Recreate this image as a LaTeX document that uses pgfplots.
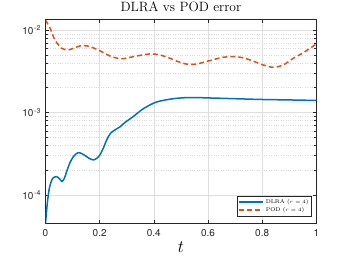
\documentclass[border=0pt]{standalone}
\usepackage{fontspec}
\usepackage{pgfplots}
\pgfplotsset{compat=1.18}
\newfontfamily\helv{TeX Gyre Heros}
\definecolor{mblue}{rgb}{0,0.447,0.741}
\definecolor{morange}{rgb}{0.85,0.325,0.098}
\definecolor{axgray}{rgb}{0.15,0.15,0.15}
\begin{document}
\begin{tikzpicture}
\useasboundingbox (-45.5pt,-39.7pt) rectangle (304.5pt,223.3pt);
\begin{axis}[
  scale only axis, width=270.8pt, height=203.8pt,
  at={(0pt,0pt)}, anchor=south west,
  ymode=log, xmin=0, xmax=1, ymin=4.54e-5, ymax=1.34e-2,
  xtick={0,0.2,0.4,0.6,0.8,1},
  xticklabels={0,0.2,0.4,0.6,0.8,1},
  ytick={1e-4,1e-3,1e-2},
  yticklabels={10\kern0.8pt\textsuperscript{-4},10\kern0.8pt\textsuperscript{-3},10\kern0.8pt\textsuperscript{-2}},
  ticklabel style={font=\helv\fontsize{10}{12}\selectfont, text=axgray},
  xticklabel style={yshift=-3pt},
  yticklabel style={xshift=-1pt},
  axis line style={axgray, line width=0.5pt},
  tick style={axgray, line width=0.5pt},
  major tick length=3pt, minor tick length=2pt,
  tick align=inside,
  xmajorgrids=true, ymajorgrids=true, yminorgrids=true,
  major grid style={black!13, line width=0.4pt},
  minor grid style={black!15, line width=0.4pt, dotted},
  title={DLRA vs POD error},
  title style={font=\fontsize{13.5}{15}\selectfont, yshift=-1.5pt},
  xlabel={$t$},
  xlabel style={font=\fontsize{17}{20}\selectfont, yshift=2pt},
  legend style={at={(0.983,0.036)}, anchor=south east,
    font=\fontsize{5.5}{6}\selectfont, draw=axgray, line width=0.4pt,
    inner sep=1pt, row sep=-1.5pt},
  legend cell align=left,
  legend image code/.code={\draw[#1] (0pt,0pt) -- (24pt,0pt);},
]
\addplot[mblue, line width=1.5pt, smooth, tension=0.5] coordinates {
(0,4.5e-5) (0.0066,7.9e-5) (0.014,1.2e-4) (0.022,1.48e-4) (0.029,1.62e-4)
(0.041,1.67e-4) (0.052,1.57e-4) (0.061,1.46e-4) (0.07,1.6e-4) (0.078,1.92e-4)
(0.09,2.45e-4) (0.103,2.92e-4) (0.121,3.27e-4) (0.14,3.1e-4) (0.16,2.8e-4)
(0.177,2.66e-4) (0.19,2.8e-4) (0.201,3.06e-4) (0.215,3.8e-4) (0.226,4.66e-4)
(0.24,5.6e-4) (0.257,6.17e-4) (0.275,6.7e-4) (0.294,7.6e-4) (0.324,8.93e-4)
(0.361,1.11e-3) (0.41,1.34e-3) (0.472,1.47e-3) (0.534,1.52e-3) (0.607,1.50e-3)
(0.7,1.47e-3) (0.792,1.44e-3) (0.9,1.42e-3) (1.0,1.40e-3)
};
\addlegendentry{DLRA ($r=4$)}
\addplot[morange, line width=1.5pt, smooth, tension=0.5, dash pattern=on 5pt off 3pt] coordinates {
(0,1.32e-2) (0.017,1.05e-2) (0.035,7.56e-3) (0.06,6.0e-3) (0.084,5.73e-3)
(0.105,6.05e-3) (0.127,6.4e-3) (0.145,6.45e-3) (0.164,6.3e-3) (0.2,5.62e-3)
(0.238,4.84e-3) (0.265,4.55e-3) (0.287,4.49e-3) (0.337,4.84e-3) (0.386,5.13e-3)
(0.423,4.98e-3) (0.46,4.54e-3) (0.484,4.2e-3) (0.521,3.86e-3) (0.558,3.87e-3)
(0.601,4.21e-3) (0.657,4.67e-3) (0.706,4.74e-3) (0.749,4.41e-3) (0.804,3.77e-3)
(0.841,3.53e-3) (0.878,3.77e-3) (0.915,4.54e-3) (0.952,5.31e-3) (1.0,6.76e-3)
};
\addlegendentry{POD ($r=4$)}
\end{axis}
\end{tikzpicture}
\end{document}
